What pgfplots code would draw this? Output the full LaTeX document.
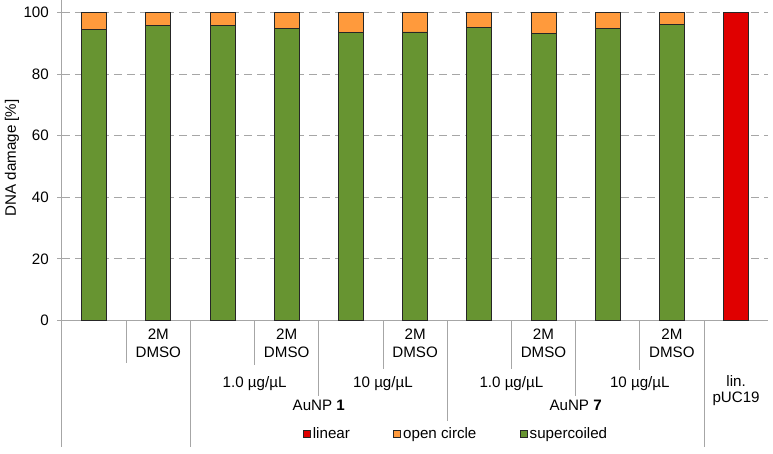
\documentclass[border=0pt]{standalone}
\usepackage{fontspec}
\setmainfont{Liberation Sans}
\usepackage{pgfplots}
\usepackage{pgfplotstable}
\pgfplotsset{compat=1.18}
\definecolor{scgreen}{HTML}{679431}
\definecolor{ocorange}{HTML}{FF9A3C}
\definecolor{linred}{HTML}{E00000}
\definecolor{axgray}{HTML}{A6A6A6}
\definecolor{bord}{HTML}{262626}

\pgfplotstableread{
x sc oc lin
0 94.4 5.6 0
1 95.7 4.3 0
2 95.8 4.2 0
3 94.7 5.3 0
4 93.4 6.6 0
5 93.7 6.3 0
6 95.0 5.0 0
7 93.1 6.9 0
8 94.7 5.3 0
9 96.0 4.0 0
10 0 0 100
}\datatable

\begin{document}
\begin{tikzpicture}[font=\fontsize{15.2}{18}\selectfont]
\begin{axis}[
  scale only axis, width=706.2bp, height=308bp,
  xmin=-0.5, xmax=10.5, ymin=0, ymax=100,
  ybar stacked, bar width=25bp,
  xtick=\empty,
  ytick={0,20,...,100},
  ymajorgrids,
  grid style={axgray, dash pattern=on 8bp off 5bp, line width=1bp},
  axis x line*=bottom, axis y line*=left,
  x axis line style={axgray, line width=1bp, -},
  y axis line style={draw=none},
  ytick style={axgray, line width=1bp},
  tick align=outside, major tick length=5bp,
  yticklabel style={inner sep=0pt, anchor=east},
  yticklabel shift=8bp,
  /pgf/number format/assume math mode=true,
  ylabel={DNA damage [\%]},
  every axis y label/.style={at={(axis description cs:-0.0708,0.528)}, rotate=90, anchor=center},
  clip=false,
  legend columns=3,
  legend reversed,
  legend style={draw=none, fill=none, at={(0.341,0)}, anchor=west, yshift=-113bp,
    inner sep=0pt, outer sep=0pt, nodes={inner sep=2.25bp},
    /tikz/every even column/.append style={column sep=41bp}},
  mylegend/.style={legend image code/.code={\draw[##1, line width=0.8bp] (0bp,-3.5bp) rectangle (7bp,3.5bp);}},
]
\addplot[fill=scgreen, draw=bord, line width=0.8bp, mylegend] table[x=x, y=sc] {\datatable};
\addplot[fill=ocorange, draw=bord, line width=0.8bp, mylegend] table[x=x, y=oc] {\datatable};
\addplot[fill=linred, draw=bord, line width=0.8bp, mylegend] table[x=x, y=lin] {\datatable};
\legend{supercoiled, open circle, linear}

% bounding box
\path (rel axis cs:0,0) ++(-62bp,-133bp) rectangle ++(773bp,453bp);
% left axis line
\draw[axgray, line width=1bp] (rel axis cs:0,1) ++(0pt,12bp) -- ++(0pt,-446bp);
% separators
\draw[axgray, line width=1bp] (axis cs:0.5,0) -- ++(0pt,-42bp);
\draw[axgray, line width=1bp] (axis cs:1.5,0) -- ++(0pt,-126.5bp);
\draw[axgray, line width=1bp] (axis cs:2.5,0) -- ++(0pt,-44bp);
\draw[axgray, line width=1bp] (axis cs:3.5,0) -- ++(0pt,-75bp);
\draw[axgray, line width=1bp] (axis cs:4.5,0) -- ++(0pt,-48bp);
\draw[axgray, line width=1bp] (axis cs:5.5,0) -- ++(0pt,-100bp);
\draw[axgray, line width=1bp] (axis cs:6.5,0) -- ++(0pt,-48bp);
\draw[axgray, line width=1bp] (axis cs:7.5,0) -- ++(0pt,-75bp);
\draw[axgray, line width=1bp] (axis cs:8.5,0) -- ++(0pt,-49bp);
\draw[axgray, line width=1bp] (axis cs:9.5,0) -- ++(0pt,-126.5bp);
% level 1 labels
\pgfplotsinvokeforeach{1,3,5,7,9}{
  \node[anchor=base, inner sep=0pt, yshift=-19bp] at (axis cs:#1,0) {2M};
  \node[anchor=base, inner sep=0pt, yshift=-37bp] at (axis cs:#1,0) {DMSO};
}
% level 2 labels
\node[anchor=base, inner sep=0pt, yshift=-67bp] at (axis cs:2.5,0) {1.0 µg/µL};
\node[anchor=base, inner sep=0pt, yshift=-67bp] at (axis cs:4.5,0) {10 µg/µL};
\node[anchor=base, inner sep=0pt, yshift=-67bp] at (axis cs:6.5,0) {1.0 µg/µL};
\node[anchor=base, inner sep=0pt, yshift=-67bp] at (axis cs:8.5,0) {10 µg/µL};
% level 3 labels
\node[anchor=base, inner sep=0pt, yshift=-90bp] at (axis cs:3.5,0) {AuNP \textbf{1}};
\node[anchor=base, inner sep=0pt, yshift=-90bp] at (axis cs:7.5,0) {AuNP \textbf{7}};
\node[anchor=base, inner sep=0pt, yshift=-66bp] at (axis cs:10,0) {lin.};
\node[anchor=base, inner sep=0pt, yshift=-81.5bp] at (axis cs:10,0) {pUC19};
\end{axis}
\end{tikzpicture}
\end{document}
